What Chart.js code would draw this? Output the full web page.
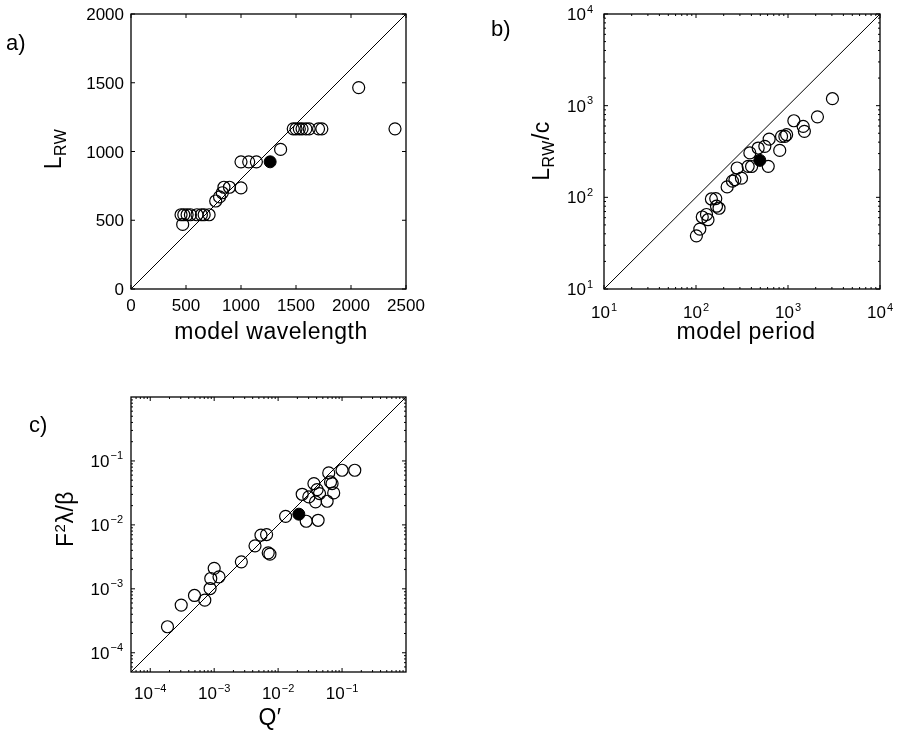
<!DOCTYPE html>
<html>
<head>
<meta charset="utf-8">
<title>model vs L_RW</title>
<script src="https://cdn.jsdelivr.net/npm/chart.js@4.4.1/dist/chart.umd.min.js"></script>
<style>
  html, body { margin: 0; padding: 0; background: #fff; }
  #wrap { position: relative; width: 898px; height: 737px; overflow: hidden; background: #fff; }
  #wrap canvas { position: absolute; }
  .lbl {
    position: absolute;
    font-family: "Liberation Sans", Arial, Helvetica, sans-serif;
    font-size: 23px;
    line-height: 23px;
    letter-spacing: 0.5px;
    color: #000;
    white-space: nowrap;
    transform: translate(-50%, -50%);
  }
  .rot { transform: translate(-50%, -50%) rotate(-90deg); }
  .panel {
    position: absolute;
    font-family: "Liberation Sans", Arial, Helvetica, sans-serif;
    font-size: 22px;
    line-height: 22px;
    color: #000;
  }
  .sub { font-size: 16px; position: relative; top: 5px; }
  .sup { font-size: 15px; position: relative; top: -8px; }
</style>
</head>
<body>
<div id="wrap">
  <canvas id="chartA" width="449" height="368" style="left:0;top:0"></canvas>
  <canvas id="chartB" width="449" height="368" style="left:449px;top:0"></canvas>
  <canvas id="chartC" width="449" height="369" style="left:0;top:368px"></canvas>

  <div class="panel" style="left:6px;top:32px">a)</div>
  <div class="panel" style="left:491px;top:18px">b)</div>
  <div class="panel" style="left:29px;top:414px">c)</div>

  <div class="lbl" style="left:271px;top:331px">model wavelength</div>
  <div class="lbl" style="left:746px;top:331px">model period</div>
  <div class="lbl" style="left:270px;top:717px">Q&#8242;</div>

  <div class="lbl rot" style="left:54px;top:149px">L<span class="sub">RW</span></div>
  <div class="lbl rot" style="left:542px;top:151px">L<span class="sub">RW</span>/c</div>
  <div class="lbl rot" style="left:66px;top:519px">F<span class="sup">2</span>&lambda;/&beta;</div>
</div>

<script>
// ----------------------------------------------------------------------
// a) model wavelength vs L_RW
// ----------------------------------------------------------------------
const aWavelength = [455, 480, 510, 540, 600, 640, 665, 710, 470,
                     770, 805, 830, 845, 895, 1000,
                     1000, 1070, 1140, 1360,
                     1475, 1500, 1530, 1555, 1590, 1620, 1705, 1735,
                     2070, 2400];
const aLrw = [540, 540, 540, 540, 540, 540, 540, 540, 470,
              640, 670, 700, 740, 740, 735,
              925, 925, 925, 1015,
              1165, 1165, 1165, 1165, 1165, 1165, 1165, 1165,
              1465, 1165];
const aFilledX = [1265];
const aFilledY = [925];
const aDiagX = [0, 2500];
const aDiagY = [0, 2000];
const aXTicks = [0, 500, 1000, 1500, 2000, 2500];
const aYTicks = [0, 500, 1000, 1500, 2000];

// ----------------------------------------------------------------------
// b) model period vs L_RW/c (log-log)
// ----------------------------------------------------------------------
const bPeriod = [101, 110, 117, 130, 135, 147, 164, 167, 178,
                 218, 249, 265, 280, 312, 369, 385, 402, 474, 560,
                 610, 624, 813, 851, 925, 966, 1158, 1462, 1507, 2090, 3040];
const bLrwC = [38, 45, 61, 65, 57, 96, 97, 80, 76,
               130, 150, 156, 209, 162, 218, 305, 217, 345, 360,
               218, 432, 325, 462, 462, 482, 685, 594, 525, 755, 1191];
const bFilledX = [494];
const bFilledY = [253];
const bDiagX = [10, 10000];
const bDiagY = [10, 10000];
const bTickExp = [1, 2, 3, 4];

// ----------------------------------------------------------------------
// c) Q' vs F^2 lambda/beta (log-log)
// ----------------------------------------------------------------------
const cQ = [1.86e-4, 3.05e-4, 4.92e-4, 7.13e-4, 8.63e-4, 8.84e-4, 1.0e-3, 1.19e-3,
            2.66e-3, 4.35e-3, 5.39e-3, 6.6e-3, 7.0e-3, 7.45e-3, 1.31e-2,
            2.38e-2, 2.75e-2, 3.02e-2, 3.63e-2, 3.85e-2, 4.07e-2, 4.22e-2, 4.44e-2,
            5.84e-2, 6.19e-2, 6.6e-2, 6.98e-2, 7.4e-2, 0.1, 0.158];
const cF = [2.55e-4, 5.56e-4, 7.87e-4, 6.65e-4, 1.01e-3, 1.45e-3, 2.09e-3, 1.54e-3,
            2.64e-3, 4.7e-3, 6.9e-3, 7.06e-3, 3.65e-3, 3.48e-3, 1.36e-2,
            3.01e-2, 1.14e-2, 2.74e-2, 4.43e-2, 2.29e-2, 3.56e-2, 1.18e-2, 3.09e-2,
            2.34e-2, 6.49e-2, 4.7e-2, 4.43e-2, 3.16e-2, 7.15e-2, 7.15e-2];
const cFilledX = [2.11e-2];
const cFilledY = [1.47e-2];
const cDiagX = [5e-5, 1];
const cDiagY = [5e-5, 1];
const cTickExp = [-4, -3, -2, -1];

// ----------------------------------------------------------------------
// helpers
// ----------------------------------------------------------------------
const FONT = '"Liberation Sans", Arial, Helvetica, sans-serif';

function toPoints(xs, ys) {
    return xs.map((x, i) => ({ x: x, y: ys[i] }));
}

// "10" with a raised exponent
function drawPower(ctx, e, anchorX, baseY, align) {
    const ex = e < 0 ? '\u2212' + (-e) : String(e);
    ctx.font = '17px ' + FONT;
    const wb = ctx.measureText('10').width;
    ctx.font = '11px ' + FONT;
    const we = ctx.measureText(ex).width;
    const total = wb + 1 + we;
    const x0 = align === 'center' ? anchorX - total / 2 : anchorX - total;
    ctx.textAlign = 'left';
    ctx.font = '17px ' + FONT;
    ctx.fillText('10', x0, baseY);
    ctx.font = '11px ' + FONT;
    ctx.fillText(ex, x0 + wb + 1, baseY - 7.5);
}

// MATLAB style box: frame, inward ticks, tick labels
const frameTicksPlugin = {
    id: 'frameTicks',
    afterDatasetsDraw(chart, args, opts) {
        const ctx = chart.ctx;
        const ca = chart.chartArea;
        const xs = chart.scales.x;
        const ys = chart.scales.y;
        const major = 4, minor = 2;

        ctx.save();
        ctx.strokeStyle = '#000';
        ctx.fillStyle = '#000';
        ctx.lineWidth = 1;
        ctx.beginPath();

        const xMajor = opts.log ? opts.xTicks.map(e => Math.pow(10, e)) : opts.xTicks;
        const yMajor = opts.log ? opts.yTicks.map(e => Math.pow(10, e)) : opts.yTicks;

        xMajor.forEach(v => {
            const px = xs.getPixelForValue(v);
            ctx.moveTo(px, ca.bottom); ctx.lineTo(px, ca.bottom - major);
            ctx.moveTo(px, ca.top); ctx.lineTo(px, ca.top + major);
        });
        yMajor.forEach(v => {
            const py = ys.getPixelForValue(v);
            ctx.moveTo(ca.left, py); ctx.lineTo(ca.left + major, py);
            ctx.moveTo(ca.right, py); ctx.lineTo(ca.right - major, py);
        });

        // minor ticks on log axes
        if (opts.log) {
            [[xs, true], [ys, false]].forEach(([s, isX]) => {
                const lo = Math.floor(Math.log10(s.min));
                const hi = Math.ceil(Math.log10(s.max));
                for (let e = lo; e < hi; e++) {
                    for (let m = 2; m <= 9; m++) {
                        const v = m * Math.pow(10, e);
                        if (v <= s.min || v >= s.max) continue;
                        const p = s.getPixelForValue(v);
                        if (isX) {
                            ctx.moveTo(p, ca.bottom); ctx.lineTo(p, ca.bottom - minor);
                            ctx.moveTo(p, ca.top); ctx.lineTo(p, ca.top + minor);
                        } else {
                            ctx.moveTo(ca.left, p); ctx.lineTo(ca.left + minor, p);
                            ctx.moveTo(ca.right, p); ctx.lineTo(ca.right - minor, p);
                        }
                    }
                }
            });
        }
        ctx.stroke();

        ctx.lineWidth = 1.3;
        ctx.strokeRect(ca.left, ca.top, ca.right - ca.left, ca.bottom - ca.top);

        // tick labels
        ctx.textBaseline = 'alphabetic';
        if (opts.log) {
            opts.xTicks.forEach(e => {
                drawPower(ctx, e, xs.getPixelForValue(Math.pow(10, e)), ca.bottom + opts.xBase, 'center');
            });
            opts.yTicks.forEach(e => {
                drawPower(ctx, e, ca.left - opts.yGap, ys.getPixelForValue(Math.pow(10, e)) + 6, 'right');
            });
        } else {
            ctx.font = '17px ' + FONT;
            ctx.textAlign = 'center';
            opts.xTicks.forEach(v => {
                ctx.fillText(String(v), xs.getPixelForValue(v), ca.bottom + opts.xBase);
            });
            ctx.textAlign = 'right';
            opts.yTicks.forEach(v => {
                ctx.fillText(String(v), ca.left - opts.yGap, ys.getPixelForValue(v) + 6);
            });
        }
        ctx.restore();
    }
};

function buildChart(canvasId, d, axis, padding, tickOpts) {
    return new Chart(document.getElementById(canvasId), {
        type: 'scatter',
        data: {
            datasets: [
                {   // 対角線
                    data: toPoints(d.diagX, d.diagY),
                    showLine: true,
                    borderColor: '#000',
                    borderWidth: 1,
                    pointRadius: 0
                },
                {
                    data: toPoints(d.x, d.y),
                    borderColor: '#000',
                    backgroundColor: 'rgba(0,0,0,0)',
                    borderWidth: 1.2,
                    pointRadius: 6
                },
                {
                    data: toPoints(d.fx, d.fy),
                    borderColor: '#000',
                    backgroundColor: '#000',
                    borderWidth: 1,
                    pointRadius: 6
                }
            ]
        },
        options: {
            responsive: false,
            animation: false,
            events: [],
            layout: { padding: padding, autoPadding: false },
            scales: {
                x: { type: axis.type, min: axis.xmin, max: axis.xmax, display: false, bounds: 'data' },
                y: { type: axis.type, min: axis.ymin, max: axis.ymax, display: false, bounds: 'data' }
            },
            plugins: {
                legend: { display: false },
                tooltip: { enabled: false },
                frameTicks: tickOpts
            }
        },
        plugins: [frameTicksPlugin]
    });
}

buildChart('chartA',
    { x: aWavelength, y: aLrw, fx: aFilledX, fy: aFilledY, diagX: aDiagX, diagY: aDiagY },
    { type: 'linear', xmin: 0, xmax: 2500, ymin: 0, ymax: 2000 },
    { left: 131, top: 14, right: 43, bottom: 79 },
    { log: false, xTicks: aXTicks, yTicks: aYTicks, xBase: 22, yGap: 7 });

buildChart('chartB',
    { x: bPeriod, y: bLrwC, fx: bFilledX, fy: bFilledY, diagX: bDiagX, diagY: bDiagY },
    { type: 'logarithmic', xmin: 10, xmax: 10000, ymin: 10, ymax: 10000 },
    { left: 155, top: 14, right: 18, bottom: 79 },
    { log: true, xTicks: bTickExp, yTicks: bTickExp, xBase: 29, yGap: 11 });

buildChart('chartC',
    { x: cQ, y: cF, fx: cFilledX, fy: cFilledY, diagX: cDiagX, diagY: cDiagY },
    { type: 'logarithmic', xmin: 5e-5, xmax: 1, ymin: 5e-5, ymax: 1 },
    { left: 131, top: 29, right: 43, bottom: 65 },
    { log: true, xTicks: cTickExp, yTicks: cTickExp, xBase: 27, yGap: 8 });
</script>
</body>
</html>
